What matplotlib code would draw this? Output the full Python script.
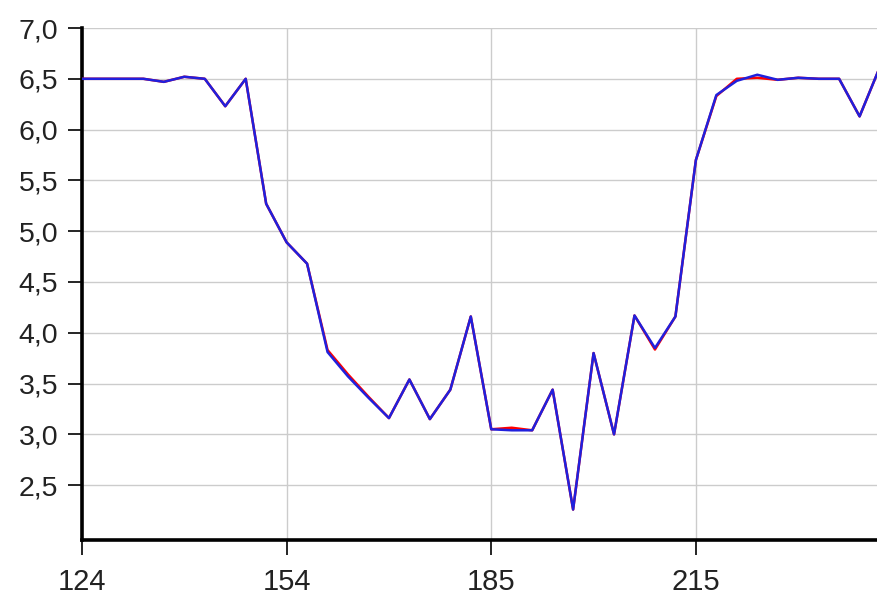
import matplotlib
matplotlib.use("Agg")
import matplotlib.pyplot as plt
from matplotlib.ticker import FuncFormatter
import numpy as np

# values, one point per step
blue_vals = [6.50, 6.50, 6.50, 6.50, 6.47, 6.52, 6.50, 6.23, 6.50, 5.27,
             4.89, 4.68, 3.81, 3.57, 3.36, 3.16, 3.54, 3.15, 3.44, 4.16,
             3.05, 3.04, 3.04, 3.44, 2.26, 3.80, 3.00, 4.17, 3.85, 4.16,
             5.70, 6.34, 6.48, 6.54, 6.49, 6.51, 6.50, 6.50, 6.13, 6.62]
red_vals = [6.50, 6.50, 6.50, 6.50, 6.47, 6.52, 6.50, 6.23, 6.50, 5.27,
            4.89, 4.68, 3.83, 3.59, 3.37, 3.16, 3.54, 3.15, 3.44, 4.16,
            3.05, 3.065, 3.04, 3.44, 2.26, 3.80, 3.00, 4.17, 3.835, 4.16,
            5.70, 6.33, 6.50, 6.51, 6.49, 6.51, 6.50, 6.50, 6.13, 6.62]
tick_pos = [0, 10, 20, 30]
tick_labels = ["124", "154", "185", "215"]
y_ticks = [2.5, 3.0, 3.5, 4.0, 4.5, 5.0, 5.5, 6.0, 6.5, 7.0]

plt.rcParams['font.family'] = ['Liberation Sans', 'DejaVu Sans']

fig = plt.figure(figsize=(8.78, 6.0), dpi=100)
ax = fig.add_axes([82/878, 60/600, 796/878, 512/600])

x = np.arange(len(blue_vals))
ax.plot(x, red_vals, color='red', lw=1.8, zorder=3)
ax.plot(x, blue_vals, color='#2020dd', lw=1.8, zorder=4)

ax.set_xlim(0, 38.9)
ax.set_ylim(1.96, 7.0)
ax.set_xticks(tick_pos)
ax.set_xticklabels(tick_labels)
ax.set_yticks(y_ticks)
ax.yaxis.set_major_formatter(FuncFormatter(lambda v, p: f"{v:.1f}".replace('.', ',')))

ax.grid(True, color='#cccccc', lw=1)
ax.set_axisbelow(True)
for s in ['top', 'right']:
    ax.spines[s].set_visible(False)
for s in ['left', 'bottom']:
    ax.spines[s].set_linewidth(2.6)
    ax.spines[s].set_color('black')

ax.tick_params(axis='y', labelsize=20.5, length=10, width=1.2, pad=7)
ax.tick_params(axis='x', labelsize=21, length=11, width=1.2, pad=9)
for lab in ax.get_xticklabels() + ax.get_yticklabels():
    lab.set_color('#222222')

fig.savefig("out.png", dpi=100)
